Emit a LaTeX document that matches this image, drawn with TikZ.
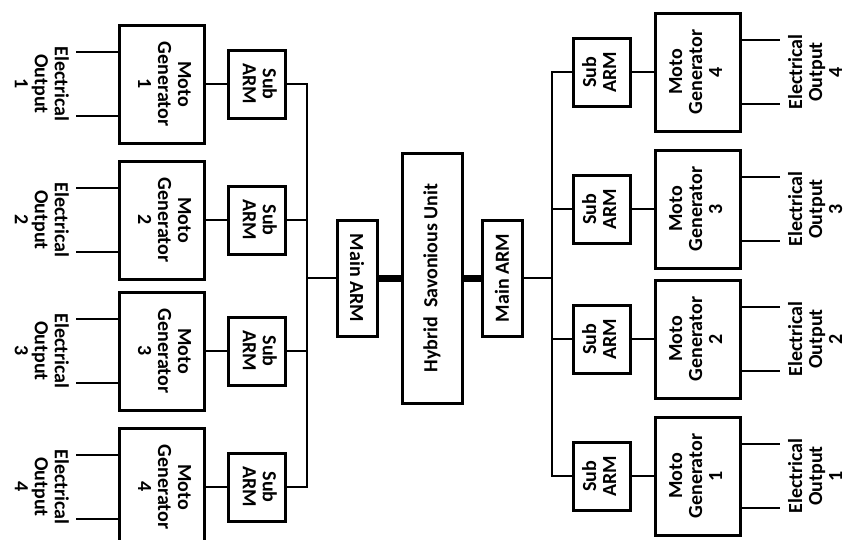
\documentclass[tikz,border=0pt]{standalone}
\usepackage{fontspec}
\setmainfont{Carlito}
\usetikzlibrary{calc}
\newcommand{\rtxt}[2]{\rotatebox{#1}{\begin{tabular}{@{}c@{}}#2\end{tabular}}}
\begin{document}
\begin{tikzpicture}[x=1pt,y=-1pt,
  box/.style={draw, line width=3pt, fill=white, inner sep=0pt, font=\fontsize{20}{20}\selectfont\bfseries},
  gen/.style={box, minimum width=85pt, minimum height=118pt},
  sub/.style={box, minimum width=57pt, minimum height=68pt},
  mainarm/.style={box, minimum width=40pt, minimum height=116pt},
  hybbox/.style={box, minimum width=60pt, minimum height=250pt},
  lab/.style={inner sep=0pt, font=\fontsize{20}{20}\selectfont\bfseries},
  conn/.style={line width=2.5pt},
  shaft/.style={line width=7pt}]
\clip (0,0) rectangle (848,539);
\fill[white] (0,0) rectangle (848,539);
% centre
\node[hybbox] (hyb) at (432,278) {\rotatebox{90}{Hybrid\ \ Savonious Unit}};
\node[mainarm] (lm) at (357,278) {\rotatebox{-90}{Main ARM}};
\node[mainarm] (rm) at (502,278) {\rotatebox{90}{Main ARM}};
\coordinate (lb) at (307,278);
\coordinate (rb) at (552,278);
\draw[shaft] (lm.east) -- (lm.east -| hyb.west);
\draw[shaft] (hyb.east) -- (hyb.east -| rm.west);
\draw[conn] (lb) -- (lm.west);
\draw[conn] (rm.east) -- (rb);
% left side
\foreach \i/\y in {1/84,2/220,3/351,4/487} {
  \node[gen] (lg\i) at (162,\y) {\rtxt{-90}{Moto\\Generator\\\i}};
  \node[sub] (ls\i) at (257,\y) {\rtxt{-90}{Sub\\ARM}};
  \node[lab] (lo\i) at (39,\y) {\rtxt{-90}{Electrical\\Output\\\i}};
  \draw[conn] (lg\i) -- (ls\i);
  \draw[conn] (ls\i.east) -| (lb);
  \draw[conn] ($(lg\i.west)+(0,-32)$) -- ++(-42,0);
  \draw[conn] ($(lg\i.west)+(0,32)$) -- ++(-42,0);
}
% right side
\foreach \i/\y in {4/72,3/209,2/339,1/476} {
  \node[gen] (rg\i) at (698,\y) {\rtxt{90}{Moto\\Generator\\\i}};
  \node[sub] (rs\i) at (602,\y) {\rtxt{90}{Sub\\ARM}};
  \node[lab] (ro\i) at (818,\y) {\rtxt{90}{Electrical\\Output\\\i}};
  \draw[conn] (rs\i) -- (rg\i);
  \draw[conn] (rs\i.west) -| (rb);
  \draw[conn] ($(rg\i.east)+(0,-32)$) -- ++(38,0);
  \draw[conn] ($(rg\i.east)+(0,32)$) -- ++(38,0);
}
\end{tikzpicture}
\end{document}
